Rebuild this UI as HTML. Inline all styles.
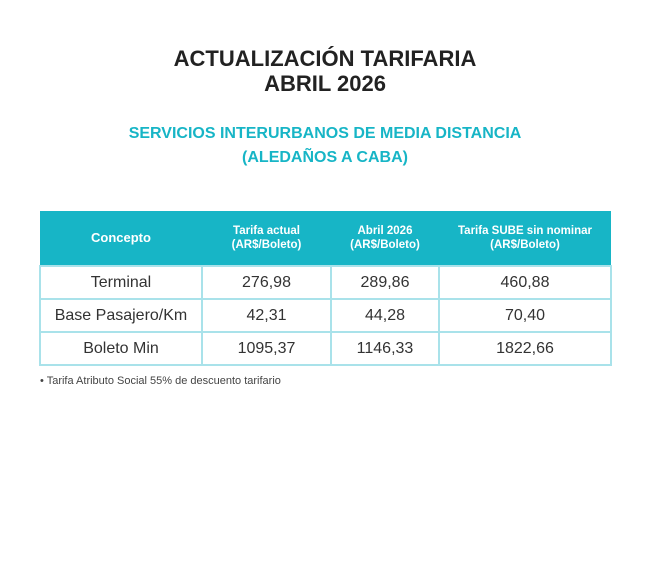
<!DOCTYPE html>
<html><head><style>
body{margin:0;width:650px;height:567px;background:#fff;font-family:"Liberation Sans",sans-serif;position:relative;overflow:hidden}
.t{position:absolute;left:0;width:650px;text-align:center;font-weight:bold}
table{position:absolute;left:39px;top:211px;width:573px;border-collapse:collapse}
th{background:#17b5c6;color:#fff;font-size:11.5px;font-weight:bold;height:54px;padding:0;line-height:14px}
td{border:2px solid #a9e2ea;text-align:center;font-size:16px;color:#333;padding:0;height:31px}
.n{position:absolute;left:40px;top:375px;font-size:11px;color:#444}
</style></head><body>
<div class="t" style="top:46px;font-size:22px;color:#222;line-height:25px">ACTUALIZACIÓN TARIFARIA<br>ABRIL 2026</div>
<div class="t" style="top:122px;font-size:16px;color:#17b5c6;line-height:24px">SERVICIOS INTERURBANOS DE MEDIA DISTANCIA<br>(ALEDAÑOS A CABA)</div>
<table>
<tr><th style="width:162px;font-size:13px">Concepto</th><th style="width:129px">Tarifa actual<br>(AR$/Boleto)</th><th style="width:108px">Abril 2026<br>(AR$/Boleto)</th><th>Tarifa SUBE sin nominar<br>(AR$/Boleto)</th></tr>
<tr><td>Terminal</td><td>276,98</td><td>289,86</td><td>460,88</td></tr>
<tr><td>Base Pasajero/Km</td><td>42,31</td><td>44,28</td><td>70,40</td></tr>
<tr><td>Boleto Min</td><td>1095,37</td><td>1146,33</td><td>1822,66</td></tr>
</table>
<div class="n">• Tarifa Atributo Social 55% de descuento tarifario</div>
</body></html>
